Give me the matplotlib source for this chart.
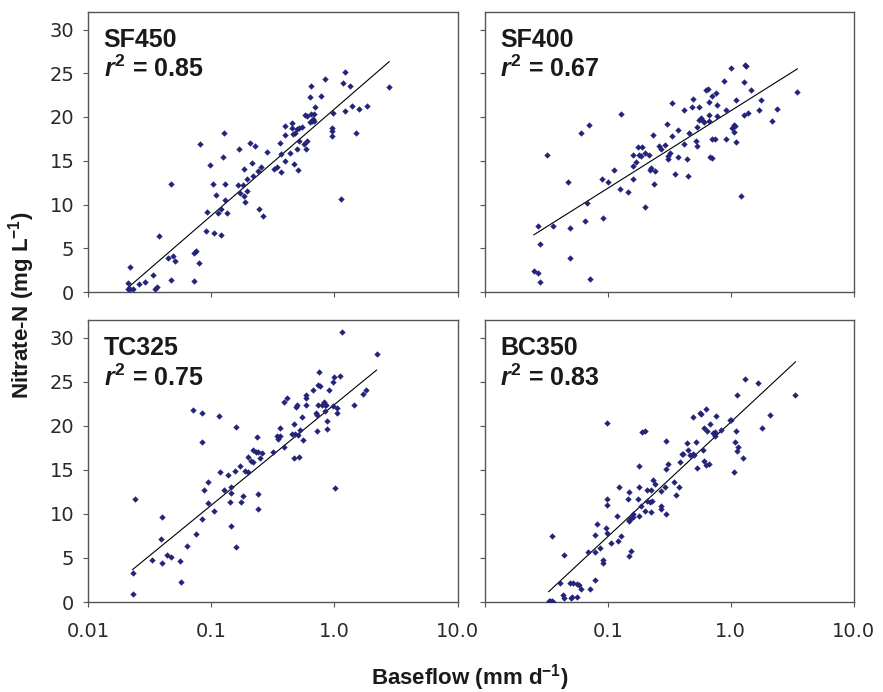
import numpy as np
import matplotlib
matplotlib.use("Agg")
import matplotlib.pyplot as plt
from matplotlib.ticker import FixedLocator, FixedFormatter, NullLocator

plt.rcParams['mathtext.fontset'] = 'custom'
plt.rcParams['mathtext.rm'] = 'Liberation Sans:bold'
plt.rcParams['mathtext.bf'] = 'Liberation Sans:bold'
plt.rcParams['mathtext.it'] = 'Liberation Sans:italic:bold'

# ---- data (baseflow mm/d, nitrate-N mg/L) ----
sf450_x = [0.127, 0.081, 0.208, 0.226, 0.168, 0.286, 0.125, 0.098, 0.214, 0.185,
           0.256, 0.324, 0.240, 0.220, 0.195, 0.047, 0.103, 0.130, 0.164, 0.181,
           0.197, 0.110, 0.170, 0.184, 0.129, 0.190, 0.121, 0.093, 0.114, 0.134,
           0.243, 0.262, 0.090, 0.106, 0.121, 0.038, 0.045, 0.049, 0.051, 0.073,
           0.075, 0.079, 0.022, 0.034, 0.047, 0.073, 0.029, 0.026, 0.021, 0.021,
           0.023, 0.022, 0.036, 0.035,
           1.22, 0.84, 0.65, 1.17, 1.34, 2.79, 0.64, 0.78, 0.70, 1.39,
           1.84, 1.60, 1.22, 0.97, 0.58, 0.60, 0.65, 0.69, 0.67, 0.68,
           0.66, 0.64, 0.40, 0.45, 0.45, 0.50, 0.52, 0.55, 0.46, 0.48,
           0.40, 0.96, 0.96, 0.96, 1.50, 0.52, 0.60, 0.57, 0.36, 0.50,
           0.59, 0.37, 0.44, 0.40, 0.47, 0.34, 0.37, 0.51, 1.13]
sf450_y = [18.2, 16.9, 17.0, 16.7, 16.3, 16.0, 15.4, 14.5, 14.7, 14.1,
           14.3, 14.1, 13.8, 13.3, 12.9, 12.4, 12.3, 12.3, 12.2, 12.2,
           11.6, 11.1, 11.3, 11.0, 10.5, 10.3, 9.5, 9.1, 9.0, 9.0,
           9.5, 8.7, 7.0, 6.8, 6.5, 6.4, 3.9, 4.1, 3.6, 4.5,
           4.7, 3.3, 2.9, 1.9, 1.4, 1.3, 1.2, 0.9, 1.0, 0.4,
           0.3, 0.3, 0.6, 0.3,
           25.1, 24.3, 23.5, 23.9, 23.5, 23.4, 22.3, 22.4, 21.1, 21.3,
           21.3, 20.9, 20.7, 20.5, 20.2, 20.1, 20.4, 20.4, 19.8, 19.6,
           19.5, 19.4, 19.0, 19.3, 18.7, 18.6, 18.8, 18.9, 18.1, 18.2,
           18.0, 18.7, 18.4, 17.8, 18.2, 17.3, 17.3, 16.9, 17.0, 16.4,
           16.4, 15.8, 15.9, 15.0, 14.6, 14.3, 13.7, 14.0, 10.6]

sf400_x = [0.33, 0.128, 0.070, 0.061, 0.305, 0.233, 0.33, 0.032, 0.175, 0.19,
           0.26, 0.27, 0.29, 0.20, 0.215, 0.16, 0.18, 0.185, 0.31, 0.32,
           0.31, 0.171, 0.159, 0.225, 0.22, 0.24, 0.112, 0.089, 0.101, 0.159,
           0.237, 0.047, 0.125, 0.146, 0.068, 0.200, 0.092, 0.065, 0.036, 0.027,
           0.049, 0.028, 0.049, 0.025, 0.027, 0.028, 0.072,
           1.32, 1.34, 1.01, 0.88, 1.29, 0.63, 0.65, 1.47, 0.76, 3.49,
           0.70, 0.49, 1.10, 1.77, 0.67, 0.77, 0.48, 0.55, 0.42, 0.91,
           1.71, 2.40, 1.38, 1.29, 0.66, 0.78, 0.57, 0.55, 0.59, 0.61,
           0.67, 2.15, 1.07, 1.09, 0.53, 1.03, 1.07, 0.37, 0.46, 0.71,
           0.75, 0.92, 1.10, 0.52, 0.42, 0.53, 0.68, 0.71, 0.37, 0.44,
           0.35, 0.45, 1.21]
sf400_y = [21.6, 20.3, 19.1, 18.2, 19.2, 18.0, 17.8, 15.7, 16.6, 16.6,
           16.7, 16.4, 16.8, 15.9, 15.7, 15.7, 15.7, 15.5, 15.5, 15.9,
           15.2, 14.9, 14.4, 14.2, 14.0, 13.8, 13.9, 12.9, 12.6, 12.9,
           12.4, 12.6, 11.8, 11.4, 10.2, 9.7, 8.5, 8.1, 7.6, 7.5,
           7.3, 5.5, 3.9, 2.4, 2.2, 1.1, 1.5,
           25.9, 25.8, 25.6, 24.1, 24.0, 23.1, 23.2, 23.1, 22.7, 22.9,
           22.4, 22.1, 21.9, 21.9, 21.7, 21.4, 21.2, 21.2, 20.8, 20.8,
           20.8, 20.9, 20.5, 20.2, 20.2, 20.1, 19.9, 19.7, 19.5, 19.4,
           19.6, 19.5, 19.1, 19.0, 18.9, 18.7, 18.3, 18.5, 18.2, 17.5,
           17.5, 17.5, 17.2, 17.3, 16.9, 16.7, 15.4, 15.3, 15.4, 15.2,
           13.5, 13.3, 11.0]

tc325_x = [0.071, 0.085, 0.115, 0.160, 0.085, 0.234, 0.22, 0.23, 0.24, 0.26,
           0.20, 0.21, 0.22, 0.247, 0.173, 0.19, 0.20, 0.157, 0.119, 0.136,
           0.095, 0.145, 0.145, 0.128, 0.087, 0.182, 0.024, 0.176, 0.141, 0.240,
           0.240, 0.095, 0.106, 0.040, 0.085, 0.145, 0.075, 0.039, 0.158, 0.064,
           0.044, 0.047, 0.033, 0.040, 0.056, 0.023, 0.057, 0.023, 0.316,
           1.15, 2.20, 0.75, 0.99, 0.98, 1.12, 0.74, 0.76, 0.67, 0.91,
           1.80, 1.70, 0.59, 0.59, 0.41, 0.39, 0.59, 0.50, 0.49, 0.74,
           0.80, 0.82, 0.84, 0.85, 0.98, 1.06, 1.44, 0.84, 1.06, 0.71,
           0.72, 0.55, 0.88, 0.47, 0.36, 0.72, 0.88, 0.45, 0.48, 0.51,
           0.53, 0.34, 0.35, 0.36, 0.56, 0.39, 0.47, 0.52, 1.01]
tc325_y = [21.8, 21.5, 21.1, 19.9, 18.1, 18.7, 17.3, 17.0, 17.0, 16.9,
           16.5, 16.0, 15.9, 16.3, 15.4, 14.9, 14.7, 14.9, 14.7, 14.4,
           13.6, 13.0, 12.4, 12.7, 12.7, 12.0, 11.7, 11.4, 11.4, 12.2,
           10.5, 11.2, 10.3, 9.7, 9.4, 8.6, 7.7, 7.1, 6.2, 6.3,
           5.3, 5.1, 4.8, 4.4, 4.6, 3.3, 2.3, 0.9, 17.0,
           30.6, 28.1, 26.1, 25.5, 25.0, 25.6, 24.6, 24.5, 24.1, 24.1,
           24.1, 23.6, 23.5, 23.2, 23.2, 22.7, 22.4, 22.4, 22.1, 22.3,
           22.3, 22.7, 22.4, 22.3, 22.2, 22.0, 22.3, 21.7, 21.4, 21.4,
           21.2, 21.0, 20.5, 20.2, 19.7, 19.4, 19.6, 19.1, 19.1, 19.0,
           19.5, 18.8, 18.5, 18.8, 18.4, 17.6, 16.3, 16.4, 12.9]

bc350_x = [0.098, 0.19, 0.20, 0.297, 0.181, 0.31, 0.30, 0.235, 0.24, 0.343,
           0.124, 0.180, 0.149, 0.21, 0.225, 0.29, 0.27, 0.175, 0.146, 0.098,
           0.21, 0.23, 0.22, 0.099, 0.187, 0.27, 0.27, 0.20, 0.225, 0.30,
           0.18, 0.16, 0.16, 0.15, 0.15, 0.155, 0.119, 0.082, 0.096, 0.098,
           0.128, 0.079, 0.035, 0.106, 0.122, 0.087, 0.069, 0.078, 0.044, 0.155,
           0.148, 0.091, 0.091, 0.079, 0.041, 0.049, 0.052, 0.056, 0.058, 0.060,
           0.071, 0.043, 0.044, 0.051, 0.050, 0.056, 0.033, 0.034, 0.035, 0.036,
           0.033,
           1.31, 1.66, 1.12, 3.37, 0.63, 0.56, 0.57, 0.49, 0.76, 2.09,
           0.98, 1.00, 0.68, 0.61, 0.64, 0.84, 0.72, 0.75, 0.75, 1.80,
           1.11, 1.08, 1.14, 1.13, 0.44, 0.52, 0.45, 0.60, 0.40, 0.41,
           0.47, 0.49, 0.50, 1.26, 0.61, 0.63, 0.67, 0.39, 0.53, 1.06,
           0.38, 0.36]
bc350_y = [20.3, 19.3, 19.4, 18.3, 15.4, 15.7, 15.1, 13.8, 13.4, 13.6,
           13.0, 13.0, 12.5, 12.7, 12.7, 13.0, 12.6, 11.7, 11.7, 11.7,
           11.5, 11.5, 11.3, 11.0, 10.9, 10.9, 10.5, 10.3, 10.2, 10.0,
           9.8, 10.0, 9.7, 9.3, 9.2, 9.5, 9.8, 8.9, 8.4, 7.8,
           7.5, 7.6, 7.5, 6.7, 6.9, 6.1, 5.7, 5.7, 5.3, 5.8,
           5.2, 4.8, 4.4, 2.5, 2.2, 2.2, 2.2, 2.0, 1.9, 1.5,
           1.5, 0.8, 0.5, 0.6, 0.4, 0.6, 0.15, 0.15, 0.15, 0.05,
           0.0,
           25.3, 24.8, 23.5, 23.5, 21.9, 21.4, 21.3, 21.0, 21.1, 21.2,
           20.6, 20.7, 20.2, 19.7, 19.4, 19.5, 19.2, 19.3, 18.8, 19.7,
           19.4, 18.2, 17.6, 17.1, 18.0, 18.2, 17.2, 17.2, 16.8, 16.8,
           16.7, 16.8, 16.7, 16.3, 16.0, 15.6, 15.7, 15.9, 15.2, 14.7,
           13.0, 12.1]

sites = ["SF450", "SF400", "TC325", "BC350"]
r2_values = ["0.85", "0.67", "0.75", "0.83"]
# fitted lines: nitrate = intercept + slope * log10(baseflow)
fit_intercept = [20.9, 20.7, 22.4, 20.4]
fit_slope = [12.18, 8.84, 11.43, 12.98]

x_ticks = [0.01, 0.1, 1.0, 10.0]
x_tick_labels_left = ["0.01", "0.1", "1.0", "10.0"]
x_tick_labels_right = ["", "0.1", "1.0", "10.0"]
y_ticks = [0, 5, 10, 15, 20, 25, 30]

xs = [sf450_x, sf400_x, tc325_x, bc350_x]
ys = [sf450_y, sf400_y, tc325_y, bc350_y]

W, H = 883, 692
fig = plt.figure(figsize=(W / 100, H / 100), dpi=100)

# panel rectangles in pixels: left, right, top, bottom
rects = [(88, 457.5, 12, 292), (485, 853.5, 12, 292),
         (88, 457.5, 320, 602), (485, 853.5, 320, 602)]

spine_col = "#555555"
dot_col = "#23237a"

for i in range(4):
    l, r, t, b = rects[i]
    ax = fig.add_axes([l / W, 1 - b / H, (r - l) / W, (b - t) / H])
    ax.set_xscale("log")
    ax.set_xlim(0.01, 10)
    ax.set_ylim(0, 32)

    x = np.array(xs[i])
    y = np.array(ys[i])
    ax.plot(x, y, linestyle="none", marker="D", ms=2.9, mfc=dot_col,
            mec=dot_col, mew=0.3, zorder=3)

    xl = np.array([x.min(), x.max()])
    ax.plot(xl, fit_intercept[i] + fit_slope[i] * np.log10(xl),
            color="black", lw=0.8, zorder=2)

    ax.xaxis.set_major_locator(FixedLocator(x_ticks))
    ax.xaxis.set_minor_locator(NullLocator())
    ax.set_yticks(y_ticks)
    if i == 2:
        ax.xaxis.set_major_formatter(FixedFormatter(x_tick_labels_left))
    elif i == 3:
        ax.xaxis.set_major_formatter(FixedFormatter(x_tick_labels_right))
    else:
        ax.set_xticklabels([])
    if i % 2 == 1:
        ax.set_yticklabels([])

    ax.tick_params(axis="both", direction="out", length=3.4, width=0.8,
                   color=spine_col, labelsize=14, labelcolor="#2a2a2a")
    ax.tick_params(axis="x", pad=11)
    ax.tick_params(axis="y", pad=6.5)
    for lab in ax.get_xticklabels() + ax.get_yticklabels():
        lab.set_family("DejaVu Sans")
    for sp in ax.spines.values():
        sp.set_color(spine_col)
        sp.set_linewidth(1.0)

    ax.text(0.042, 0.875, sites[i], transform=ax.transAxes, fontsize=18,
            fontweight="bold", family="Liberation Sans", va="baseline",
            color="#1a1a1a")
    ax.text(0.042, 0.767, r"$\mathit{r}^{2}$ = " + r2_values[i],
            transform=ax.transAxes, fontsize=18, fontweight="bold",
            family="Liberation Sans", va="baseline", color="#1a1a1a")

fig.text(22 / W, 1 - 305 / H, r"Nitrate-N (mg L$^{-1}$)", rotation=90,
         ha="center", va="center", fontsize=16, fontweight="bold",
         family="Liberation Sans", color="#1a1a1a")
fig.text(470 / W, 1 - 678 / H, r"Baseflow (mm d$^{-1}$)",
         ha="center", va="center", fontsize=16, fontweight="bold",
         family="Liberation Sans", color="#1a1a1a")

fig.savefig("out.png", dpi=100)
